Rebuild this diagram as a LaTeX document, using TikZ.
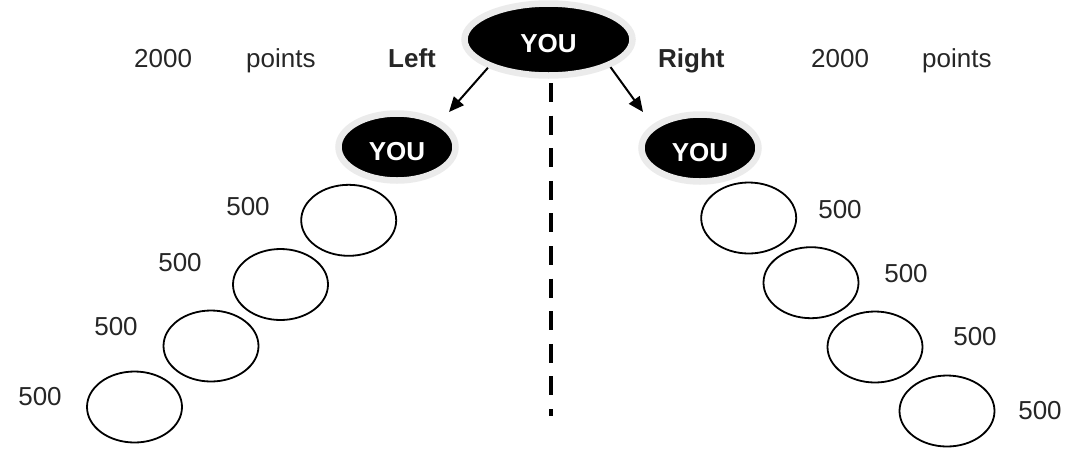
\documentclass[tikz,border=0pt]{standalone}
\usepackage{fontspec}
\setmainfont{Liberation Sans}
\usetikzlibrary{shapes.geometric,arrows.meta}

\begin{document}
\begin{tikzpicture}[
	x=1pt, y=-1pt,
	every node/.style = {
		inner sep=0pt, text=black!85,
		font=\fontsize{26}{30}\selectfont},
	you/.style = {
		shape=ellipse, fill=black,
		draw=black!8, line width=6.5pt,
		text=white, font=\fontsize{26}{30}\selectfont\bfseries,
		text height=26.6pt, text depth=0pt},
	slot/.style = {
		shape=ellipse, draw=black, line width=1.8pt,
		minimum width=95pt, minimum height=71pt},
	side/.style = {anchor=base west, font=\fontsize{26}{30}\selectfont\bfseries},
	pick/.style = {line width=2pt, -{Triangle[length=15pt,width=13pt]}},
	divide/.style = {line width=4.5pt, dash pattern=on 19pt off 13.6pt}]

	\useasboundingbox (0,0) rectangle (1076,448);

	\node[you, minimum width=168pt, minimum height=72pt] (top) at (548.5,39.5) {YOU};
	\node[you, minimum width=117pt, minimum height=67pt] (leftyou) at (397,147) {YOU};
	\node[you, minimum width=117pt, minimum height=67pt] (rightyou) at (700,148) {YOU};

	\node[anchor=base west] (lsum) at (134,67) {2000};
	\node[anchor=base west] (lpts) at (246,67) {points};
	\node[side] (lside) at (388,67) {Left};
	\node[side] (rside) at (658,67) {Right};
	\node[anchor=base west] (rsum) at (811,67) {2000};
	\node[anchor=base west] (rpts) at (922,67) {points};

	\coordinate (ltip) at (449,112);
	\coordinate (rtip) at (643,112);
	\draw[pick] (top.205) -- (ltip);
	\draw[pick] (top.336) -- (rtip);

	\coordinate (cuttop) at (551,83);
	\coordinate (cutend) at (551,416);
	\draw[divide] (cuttop) -- (cutend);

	\node[slot] (l1) at (348.7,220.3) {};
	\node[slot] (l2) at (280.5,284.5) {};
	\node[slot] (l3) at (211,346) {};
	\node[slot] (l4) at (134.5,407) {};
	\node (l1pts) at (248,207) {500};
	\node (l2pts) at (180,263) {500};
	\node (l3pts) at (116,327) {500};
	\node (l4pts) at (40,397) {500};

	\node[slot] (r1) at (748.7,218) {};
	\node[slot] (r2) at (811,282.7) {};
	\node[slot] (r3) at (875,347) {};
	\node[slot] (r4) at (947,411) {};
	\node (r1pts) at (840,210) {500};
	\node (r2pts) at (906,274) {500};
	\node (r3pts) at (975,337) {500};
	\node (r4pts) at (1040,411) {500};
\end{tikzpicture}
\end{document}
